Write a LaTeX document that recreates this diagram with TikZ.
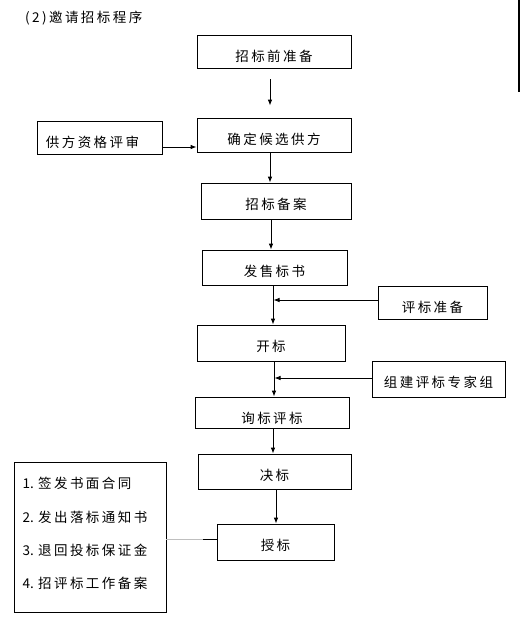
\documentclass[tikz,border=0pt]{standalone}
\usepackage{fontspec}
\setmainfont{Noto Sans CJK SC}
\newfontfamily\cjk[LetterSpace=18]{Noto Sans CJK SC}
\newfontfamily\cjkn{Noto Sans CJK SC}
\usetikzlibrary{arrows.meta}
\newcommand\numitem[2]{\makebox[15.5pt][l]{\cjkn #1}#2}
\begin{document}
\begin{tikzpicture}[x=1pt,y=-1pt,
  bx/.style={draw, line width=0.8pt, inner sep=0pt, font=\cjk\fontsize{13.5}{16}\selectfont, text height=26.5pt},
  lt/.style={anchor=west, inner sep=0pt, font=\cjk\fontsize{13.5}{16}\selectfont},
  arr/.style={-{Latex[length=6pt,width=4.5pt]}, line width=0.8pt},
  ln/.style={line width=0.8pt}]
\useasboundingbox (0,0) rectangle (520,627);
\fill[white] (0,0) rectangle (520,627);
\node[anchor=west, inner sep=0pt, font=\cjk\fontsize{13.5}{16}\selectfont] (title) at (25,18) {(2)邀请招标程序};
\node[bx, minimum width=154pt, text depth=6.5pt] (b1) at (274,51.5) {招标前准备};
\node[bx, minimum width=154pt, text depth=7.5pt] (b2) at (274,135) {确定候选供方};
\node[bx, minimum width=125pt, text depth=6.5pt] (sup) at (99.5,137.5) {供方资格评审\kern14pt};
\node[bx, minimum width=150pt, text depth=9.5pt] (b3) at (276,201) {招标备案};
\node[bx, minimum width=145pt, text depth=8.5pt] (b4) at (274.5,267.5) {发售标书};
\node[bx, minimum width=109pt, text depth=6.5pt] (pb) at (432.5,302.5) {评标准备};
\node[bx, minimum width=148pt, text depth=9.5pt] (b5) at (271,343) {开标};
\node[bx, minimum width=133pt, text depth=9.5pt] (eg) at (438.5,379) {组建评标专家组};
\node[bx, minimum width=154pt, text depth=4.5pt] (b6) at (272,412.5) {询标评标};
\node[bx, minimum width=153pt, text depth=8.5pt] (b7) at (274.5,471.5) {决标};
\node[bx, minimum width=117pt, text depth=9.5pt] (b8) at (275.5,542) {授标};
\node[draw, line width=0.8pt, inner sep=0pt, minimum width=152pt, minimum height=150pt] (lst) at (90,537) {};
\node[lt] (l1) at (22.5,483) {\numitem{1.}{签发书面合同}};
\node[lt] (l2) at (22.5,517) {\numitem{2.}{发出落标通知书}};
\node[lt] (l3) at (22.5,550) {\numitem{3.}{退回投标保证金}};
\node[lt] (l4) at (22.5,583) {\numitem{4.}{招评标工作备案}};
\coordinate (j1) at (273.5,300);
\coordinate (j2) at (274.5,378);
\coordinate (m) at (203,539);
\draw[arr] ([xshift=-4pt,yshift=-11pt]b1.south) -- ([xshift=-4pt,yshift=12pt]b2.north);
\draw[arr] ([yshift=-9.5pt]sup.east) -- ([yshift=-12pt]b2.west);
\draw[arr] ([xshift=-4pt]b2.south) -- ([xshift=-6pt]b3.north);
\draw[arr] ([xshift=-5pt]b3.south) -- ([xshift=-3.5pt]b4.north);
\draw[arr] ([xshift=-1.5pt]b4.south) -- ([xshift=2pt]b5.north);
\draw[arr] ([yshift=2.5pt]pb.west) -- (j1);
\draw[arr] ([xshift=3pt]b5.south) -- ([xshift=2pt]b6.north);
\draw[arr] ([yshift=1pt]eg.west) -- (j2);
\draw[arr] ([xshift=1pt]b6.south) -- ([xshift=-1.5pt]b7.north);
\draw[arr] ([xshift=1.5pt]b7.south) -- ([xshift=0.5pt]b8.north);
\draw[ln, gray!50] ([yshift=-2pt]lst.east) -- (m);
\draw[ln] (m) -- ([yshift=3pt]b8.west);
\fill (518,0) rectangle (520,92);
\end{tikzpicture}
\end{document}
